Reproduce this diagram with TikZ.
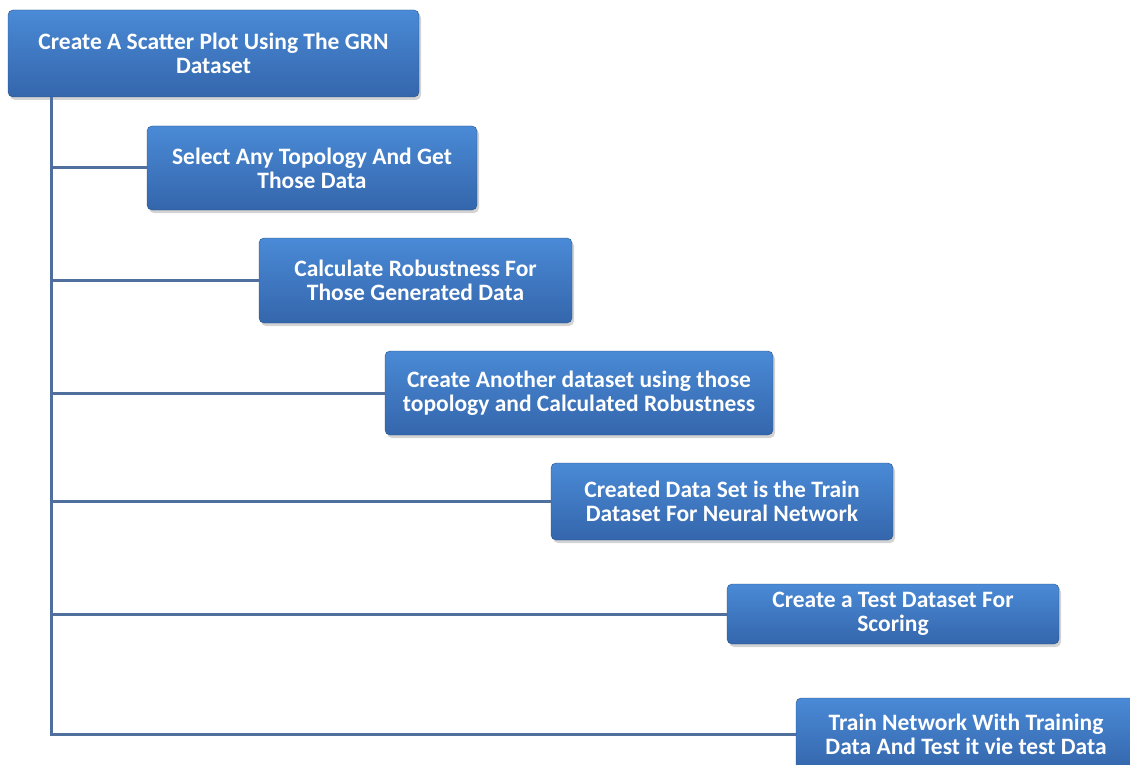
\documentclass[tikz,border=0pt]{standalone}
\usepackage{fontspec}
\setmainfont{Carlito}
\usetikzlibrary{shadows}
\definecolor{boxtop}{RGB}{74,138,214}
\definecolor{boxbottom}{RGB}{52,102,172}
\definecolor{linkblue}{RGB}{79,111,158}
\begin{document}
\begin{tikzpicture}[x=1pt,y=-1pt,
	stepbox/.style={rectangle, rounded corners=5pt, top color=boxtop, bottom color=boxbottom,
		draw=boxbottom!80!black, line width=0.4pt, text=white, align=center,
		font=\fontsize{23.5}{24}\selectfont\bfseries, inner sep=0pt,
		drop shadow={opacity=0.35, shadow xshift=2pt, shadow yshift=-3pt}},
	link/.style={draw=linkblue, line width=3pt}]

	% frame
	\useasboundingbox (0,0) rectangle (1130,765);

	% boxes
	\node[stepbox, minimum width=411, minimum height=87] (scatter) at (213.5,53.5)
		{Create A Scatter Plot Using The GRN\\Dataset};
	\node[stepbox, minimum width=330, minimum height=84] (topology) at (312,168)
		{Select Any Topology And Get\\Those Data};
	\node[stepbox, minimum width=313, minimum height=85] (robust) at (415.5,280.5)
		{Calculate Robustness For\\Those Generated Data};
	\node[stepbox, minimum width=388, minimum height=84] (another) at (579,393)
		{Create Another dataset using those\\topology and Calculated Robustness};
	\node[stepbox, minimum width=342, minimum height=77] (trainset) at (722,501.5)
		{Created Data Set is the Train\\Dataset For Neural Network};
	\node[stepbox, minimum width=332, minimum height=60] (testset) at (893,614)
		{Create a Test Dataset For\\Scoring};
	\node[stepbox, minimum width=340, minimum height=72] (network) at (966,734)
		{Train Network With Training\\Data And Test it vie test Data};

	% connectors
	\coordinate (trunk) at ([xshift=44pt]scatter.south west);
	\foreach \n in {topology,robust,another,trainset,testset,network}
		\draw[link] (trunk) |- (\n.west);

\end{tikzpicture}
\end{document}
